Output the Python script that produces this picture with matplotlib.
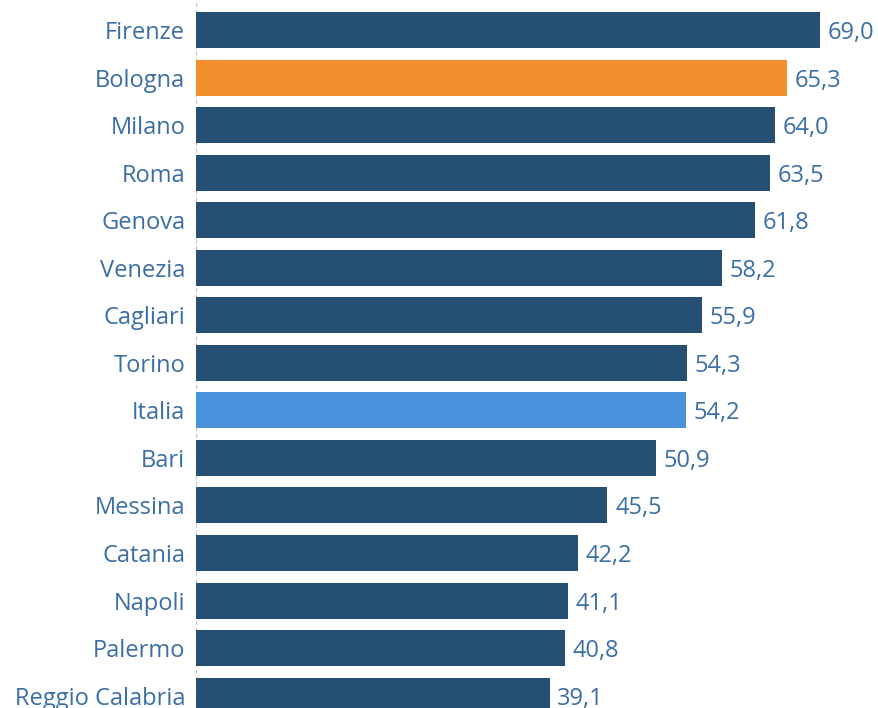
import matplotlib
matplotlib.use("Agg")
import matplotlib.pyplot as plt

# Dati
citta = ["Firenze", "Bologna", "Milano", "Roma", "Genova", "Venezia", "Cagliari",
         "Torino", "Italia", "Bari", "Messina", "Catania", "Napoli", "Palermo",
         "Reggio Calabria"]
valori = [69.0, 65.3, 64.0, 63.5, 61.8, 58.2, 55.9, 54.3, 54.2, 50.9, 45.5,
          42.2, 41.1, 40.8, 39.1]

blu_scuro = "#254f73"
arancio = "#f28e2b"
azzurro = "#4a93dc"
testo = "#3a6ea5"

colori = []
for c in citta:
    if c == "Bologna":
        colori.append(arancio)
    elif c == "Italia":
        colori.append(azzurro)
    else:
        colori.append(blu_scuro)

plt.rcParams['font.family'] = ['Open Sans', 'DejaVu Sans']

fig = plt.figure(figsize=(8.79, 7.08), dpi=100)
ax = fig.add_axes([196 / 879, 0, 1 - 196 / 879, 1])

pos = list(range(len(citta)))
ax.barh(pos, valori, height=0.757, color=colori)

# baseline un po' sotto il centro della barra
off = 0.19
for i, v in enumerate(valori):
    ax.text(v + 0.85, i + off, f"{v:.1f}".replace(".", ","), va="baseline",
            ha="left", fontsize=17, color=testo)
    ax.text(-1.2, i + off, citta[i], va="baseline", ha="right", fontsize=17,
            color=testo)

ax.set_xlim(0, 683 / 9.043)
ax.set_ylim(14.26, -0.631)
ax.axis("off")
ax.axvline(0, color="#c8c8c8", lw=1, ls=(0, (3, 2)), zorder=0)

fig.savefig("out.png", dpi=100)
